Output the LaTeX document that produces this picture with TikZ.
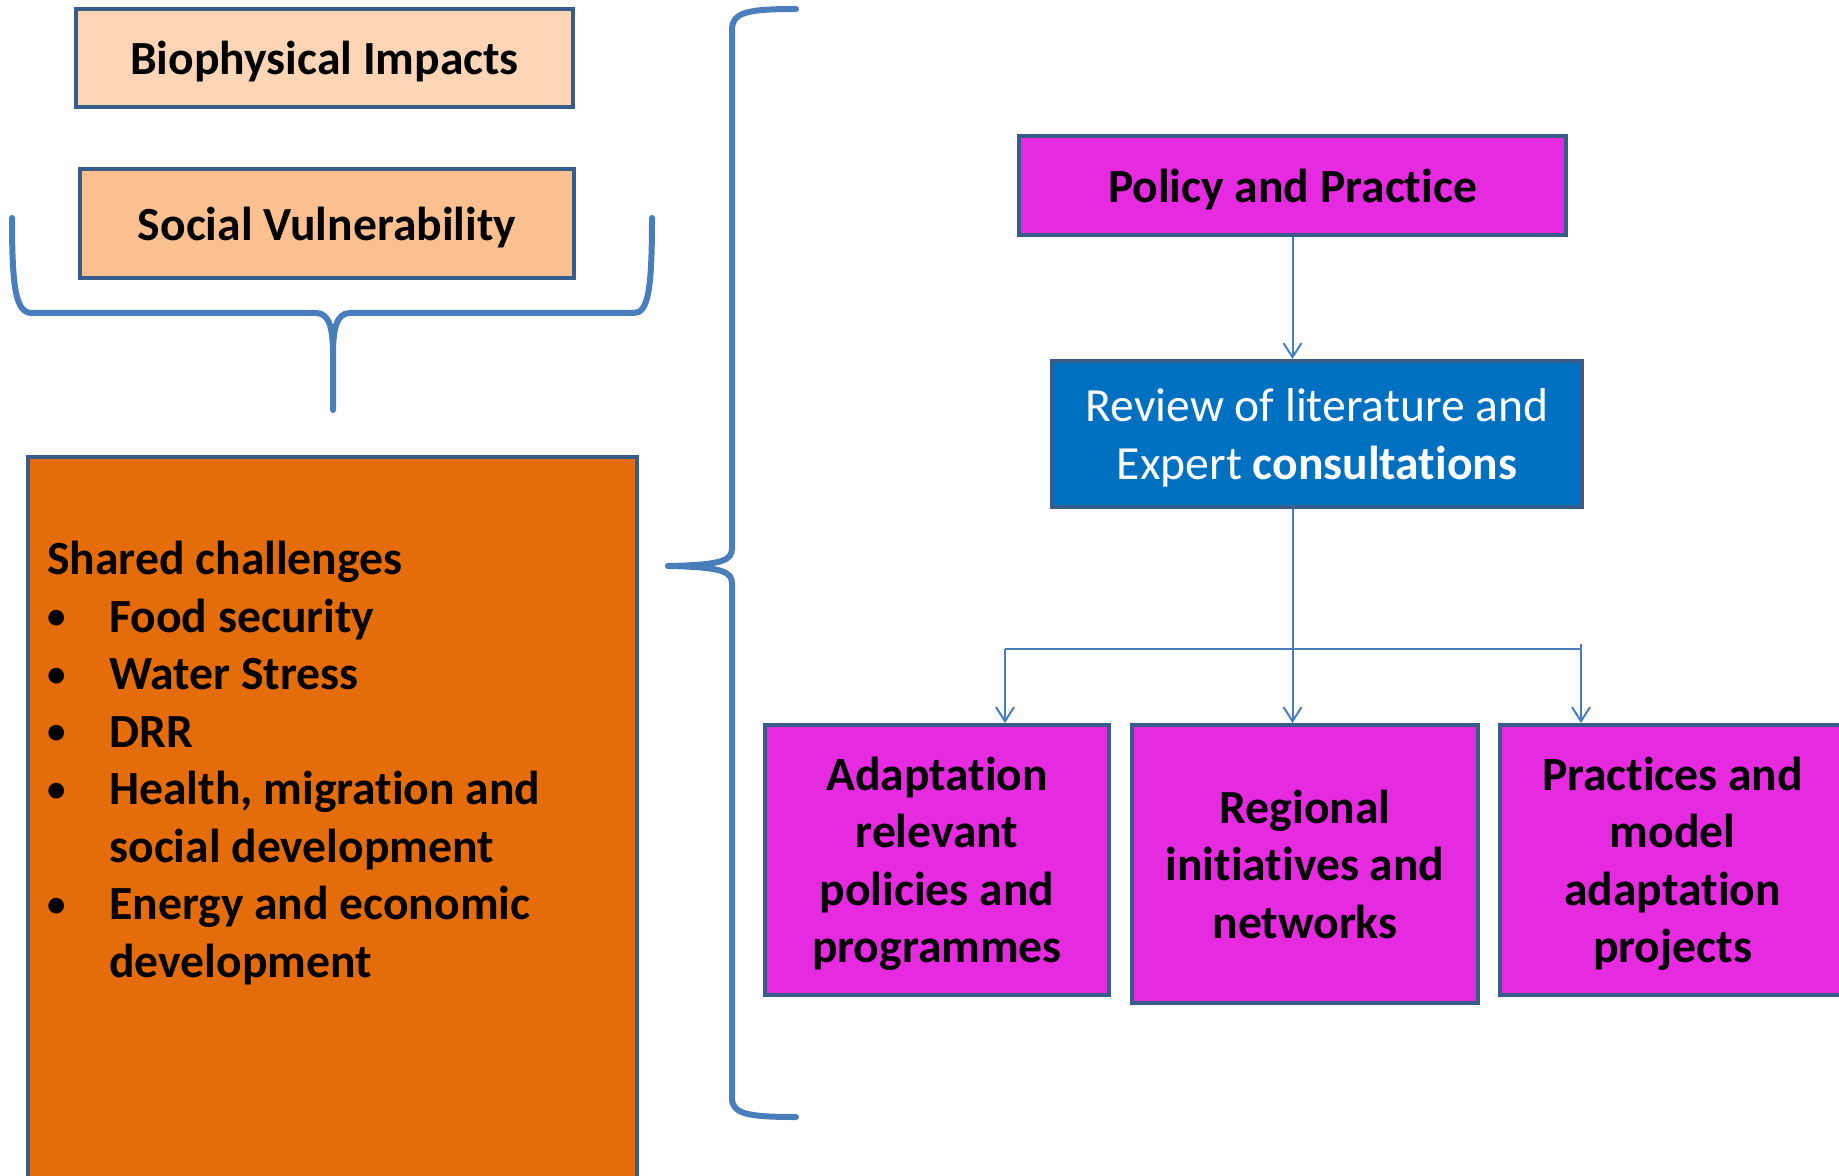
\documentclass[tikz,border=0pt]{standalone}
\usepackage{fontspec}
\setmainfont{Carlito}[Ligatures={NoCommon}]
\usetikzlibrary{arrows.meta}
\definecolor{edgeblue}{HTML}{385D8A}
\definecolor{linkblue}{HTML}{4A7EBB}
\definecolor{peachA}{HTML}{FBD5B5}
\definecolor{peachB}{HTML}{FAC090}
\definecolor{orangefill}{HTML}{E46C0A}
\definecolor{magentafill}{HTML}{E62AE0}
\definecolor{bluefill}{HTML}{0070C0}
% bullet item start: small centred dot, then the hanging indent
\newcommand{\itemdot}{\hspace*{4.5pt}\makebox[0pt]{\raisebox{1.6pt}{\fontsize{18.5}{18.5}\selectfont •}}\hspace*{26.5pt}}
\begin{document}
\begin{tikzpicture}[x=0.5pt,y=-0.5pt,
  box/.style={draw=edgeblue, line width=2pt, rectangle, inner sep=0pt, align=center,
    text depth=0pt, font=\fontsize{23.8}{28.75}\selectfont\bfseries},
  brace/.style={draw=linkblue, line width=3pt, line cap=round},
  conn/.style={draw=linkblue, line width=1pt},
  arr/.style={conn, -{Straight Barb[length=7pt,width=9pt]}}
]
\useasboundingbox (0,0) rectangle (1839,1176);

% left column
\node[box, fill=peachA, minimum width=248.5pt, minimum height=49pt] (bio) at (324.5,58) {Biophysical Impacts};
\node[box, fill=peachB, minimum width=247pt, minimum height=54.5pt] (social) at (327,223.5) {Social Vulnerability};
\node[box, fill=orangefill, minimum width=304.5pt, minimum height=371.5pt] (shared) at (332.5,828.5) {};
\node[anchor=base west, inner sep=0pt, align=left, font=\fontsize{23.8}{28.74}\selectfont\bfseries] (list) at (47,977)
 {Shared challenges\\
  \itemdot Food security\\
  \itemdot Water Stress\\
  \itemdot DRR\\
  \itemdot Health, migration and\\
  \hspace*{31pt}social development\\
  \itemdot Energy and economic\\
  \hspace*{31pt}development};

% brace under the two top boxes
\draw[brace] (12,218) .. controls (12,290) and (16,313) .. (32,313) -- (316,313)
  .. controls (330,313) and (333,330) .. (333,355) -- (333,410);
\draw[brace] (652,218) .. controls (652,290) and (648,313) .. (634,313) -- (350,313)
  .. controls (336,313) and (333,330) .. (333,355);

% large brace grouping the right side
\draw[brace] (796,9) .. controls (748,9) and (732,12) .. (732,30) -- (732,548)
  .. controls (732,560) and (724,565) .. (668,566);
\draw[brace] (796,1117) .. controls (748,1117) and (732,1114) .. (732,1098) -- (732,584)
  .. controls (732,572) and (724,567) .. (668,566);

% right column
\node[box, fill=magentafill, minimum width=273.5pt, minimum height=49.5pt] (policy) at (1292.5,185.5) {Policy and Practice};
\node[box, fill=bluefill, text=white, font=\fontsize{23.8}{29.3}\selectfont, minimum width=265pt, minimum height=73pt] (review) at (1317,434)
 {Review of literature and\\Expert \textbf{consultations}};
\node[box, fill=magentafill, minimum width=172pt, minimum height=135pt] (adapt) at (937,860)
 {Adaptation\\relevant\\policies and\\programmes};
\node[box, fill=magentafill, minimum width=173pt, minimum height=139pt] (regional) at (1305,864)
 {Regional\\initiatives and\\networks};
\node[box, fill=magentafill, minimum width=172.5pt, minimum height=135pt] (practices) at (1672.5,860)
 {Practices and\\model\\adaptation\\projects};

% connectors
\coordinate (barL) at (1005,649);
\coordinate (barR) at (1581,649);
\coordinate (barRtop) at (1581,644);
\draw[arr] (policy.south) -- (policy.south |- review.north);
\draw[conn] (barL) -- (barR);
\draw[arr] (policy.south |- review.south) -- (policy.south |- regional.north);
\draw[arr] (barL) -- (barL |- adapt.north);
\draw[arr] (barRtop) -- (barRtop |- practices.north);
\end{tikzpicture}
\end{document}
